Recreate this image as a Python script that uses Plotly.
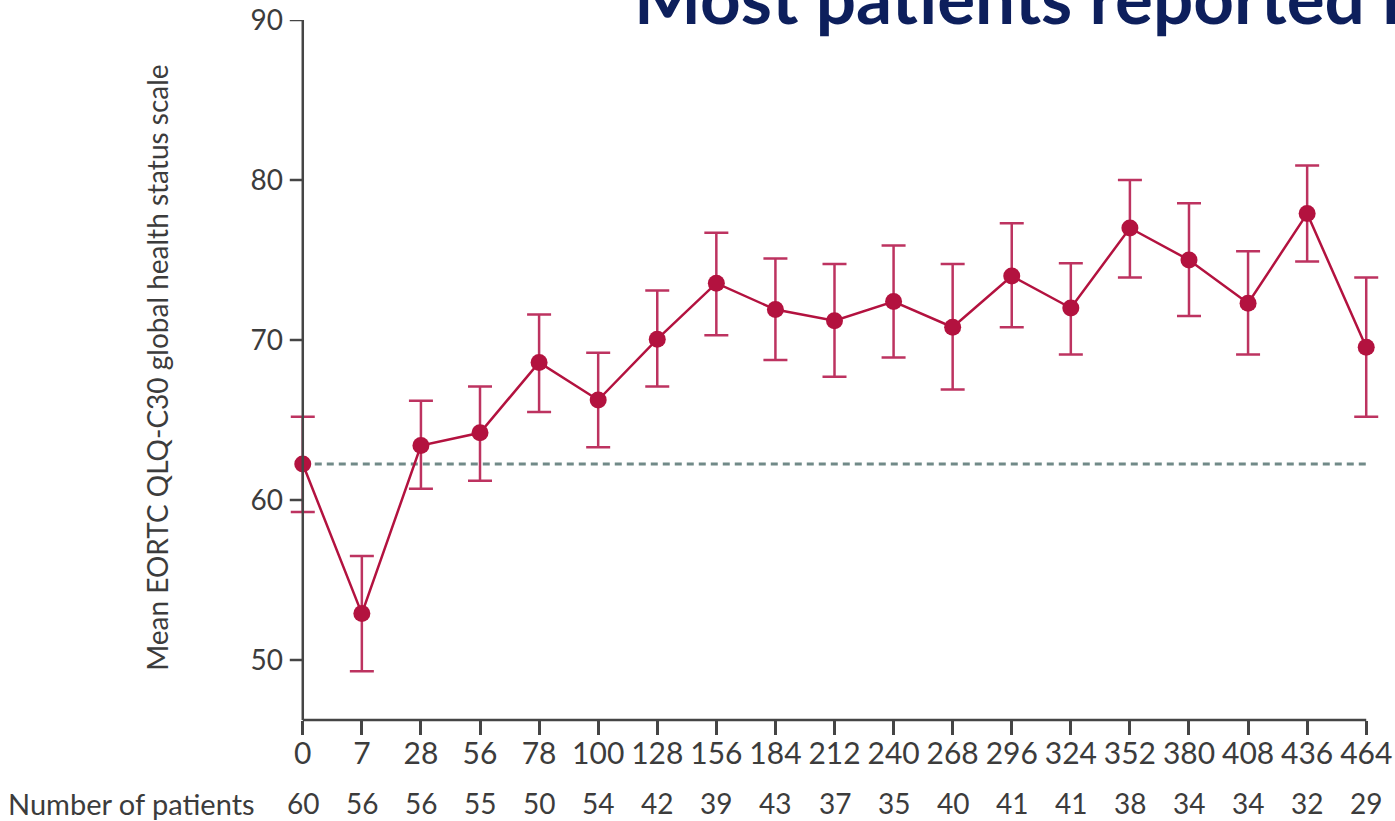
import plotly.graph_objects as go

days = ["0", "7", "28", "56", "78", "100", "128", "156", "184", "212", "240",
        "268", "296", "324", "352", "380", "408", "436", "464"]
mean_score = [62.25, 52.9, 63.4, 64.2, 68.6, 66.25, 70.05, 73.55, 71.9, 71.2, 72.4,
              70.8, 74.0, 72.0, 77.0, 75.0, 72.3, 77.9, 69.55]
ci_upper = [65.2, 56.5, 66.2, 67.1, 71.6, 69.2, 73.1, 76.7, 75.1, 74.75, 75.9,
            74.75, 77.3, 74.8, 80.0, 78.55, 75.55, 80.9, 73.9]
ci_lower = [59.25, 49.3, 60.7, 61.2, 65.5, 63.3, 67.1, 70.3, 68.75, 67.7, 68.9,
            66.9, 70.8, 69.1, 73.9, 71.5, 69.1, 74.9, 65.2]
n_patients = [60, 56, 56, 55, 50, 54, 42, 39, 43, 37, 35, 40, 41, 41, 38, 34, 34, 32, 29]
baseline = 62.25
y_ticks = [50, 60, 70, 80, 90]
y_min, y_max = 46.25, 90

idx = list(range(len(days)))
err_plus = [u - m for u, m in zip(ci_upper, mean_score)]
err_minus = [m - l for m, l in zip(mean_score, ci_lower)]

RED = "#b3123f"
ERR = "#bd3360"
TXT = "#3c3c3c"
AX = "#454545"
FONT = "Lato"

fig = go.Figure()

fig.add_trace(go.Scatter(
    x=[idx[0], idx[-1]], y=[baseline, baseline], mode="lines",
    line=dict(color="#718a88", width=3, dash="7px,5px"),
    hoverinfo="skip", showlegend=False,
))

fig.add_trace(go.Scatter(
    x=idx, y=mean_score, mode="lines+markers",
    line=dict(color=RED, width=2.5),
    marker=dict(color=RED, size=17),
    error_y=dict(type="data", symmetric=False, array=err_plus, arrayminus=err_minus,
                 color=ERR, thickness=2.5, width=12),
    showlegend=False, cliponaxis=False,
))

shapes = []
shapes.append(dict(type="line", xref="x", yref="paper", x0=idx[0], x1=idx[-1], y0=0, y1=0,
                   line=dict(color=AX, width=2.5)))
shapes.append(dict(type="line", xref="x", yref="y", x0=idx[0], x1=idx[0], y0=y_min, y1=y_max,
                   line=dict(color=AX, width=2.5)))
for t in y_ticks:
    shapes.append(dict(type="line", xref="x", yref="y", xsizemode="pixel", xanchor=idx[0],
                       x0=-13, x1=0, y0=t, y1=t, line=dict(color=AX, width=2.5)))

annotations = []
for i, n in zip(idx, n_patients):
    annotations.append(dict(
        x=i, y=0, xref="x", yref="paper", yshift=-83, text=str(n),
        showarrow=False, xanchor="center", yanchor="middle",
        font=dict(family=FONT, size=28, color=TXT),
    ))
annotations.append(dict(
    x=0, y=0, xref="x", yref="paper", xshift=-46, yshift=-83,
    text="Number of patients", showarrow=False, xanchor="right", yanchor="middle",
    font=dict(family=FONT, size=29, color=TXT),
))
annotations.append(dict(
    x=-0.1199, y=0.503, xref="paper", yref="paper", textangle=-90,
    text="Mean EORTC QLQ-C30 global health status scale", showarrow=False,
    xanchor="center", yanchor="middle",
    font=dict(family=FONT, size=28, color=TXT),
))
annotations.append(dict(
    x=0.3147, y=1.034, xref="paper", yref="paper",
    text="<b>Most patients reported improved quality of life</b>", showarrow=False,
    xanchor="left", yanchor="middle",
    font=dict(family=FONT, size=71, color="#0d1f5c"),
))

fig.update_layout(
    width=1395, height=821,
    margin=dict(l=288, r=14, t=20, b=101),
    paper_bgcolor="white", plot_bgcolor="white",
    annotations=annotations, shapes=shapes,
    xaxis=dict(
        range=[-0.25, 18.25], tickmode="array", tickvals=idx, ticktext=days,
        showgrid=False, zeroline=False, showline=False, automargin=False,
        ticks="outside", ticklen=14, tickwidth=2.5, tickcolor=AX,
        tickfont=dict(family=FONT, size=30, color=TXT), ticklabelstandoff=-7,
        ticklabeloverflow="allow",
    ),
    yaxis=dict(
        range=[y_min, y_max], tickmode="array", tickvals=y_ticks,
        showgrid=False, zeroline=False, showline=False, automargin=False,
        ticks="", tickfont=dict(family=FONT, size=28, color=TXT), ticklabelstandoff=4,
        ticklabeloverflow="allow",
    ),
)

fig.write_html(
    "out.html",
    config={"displayModeBar": False},
    post_script="document.body.style.margin='0';document.body.style.overflow='hidden';",
)
